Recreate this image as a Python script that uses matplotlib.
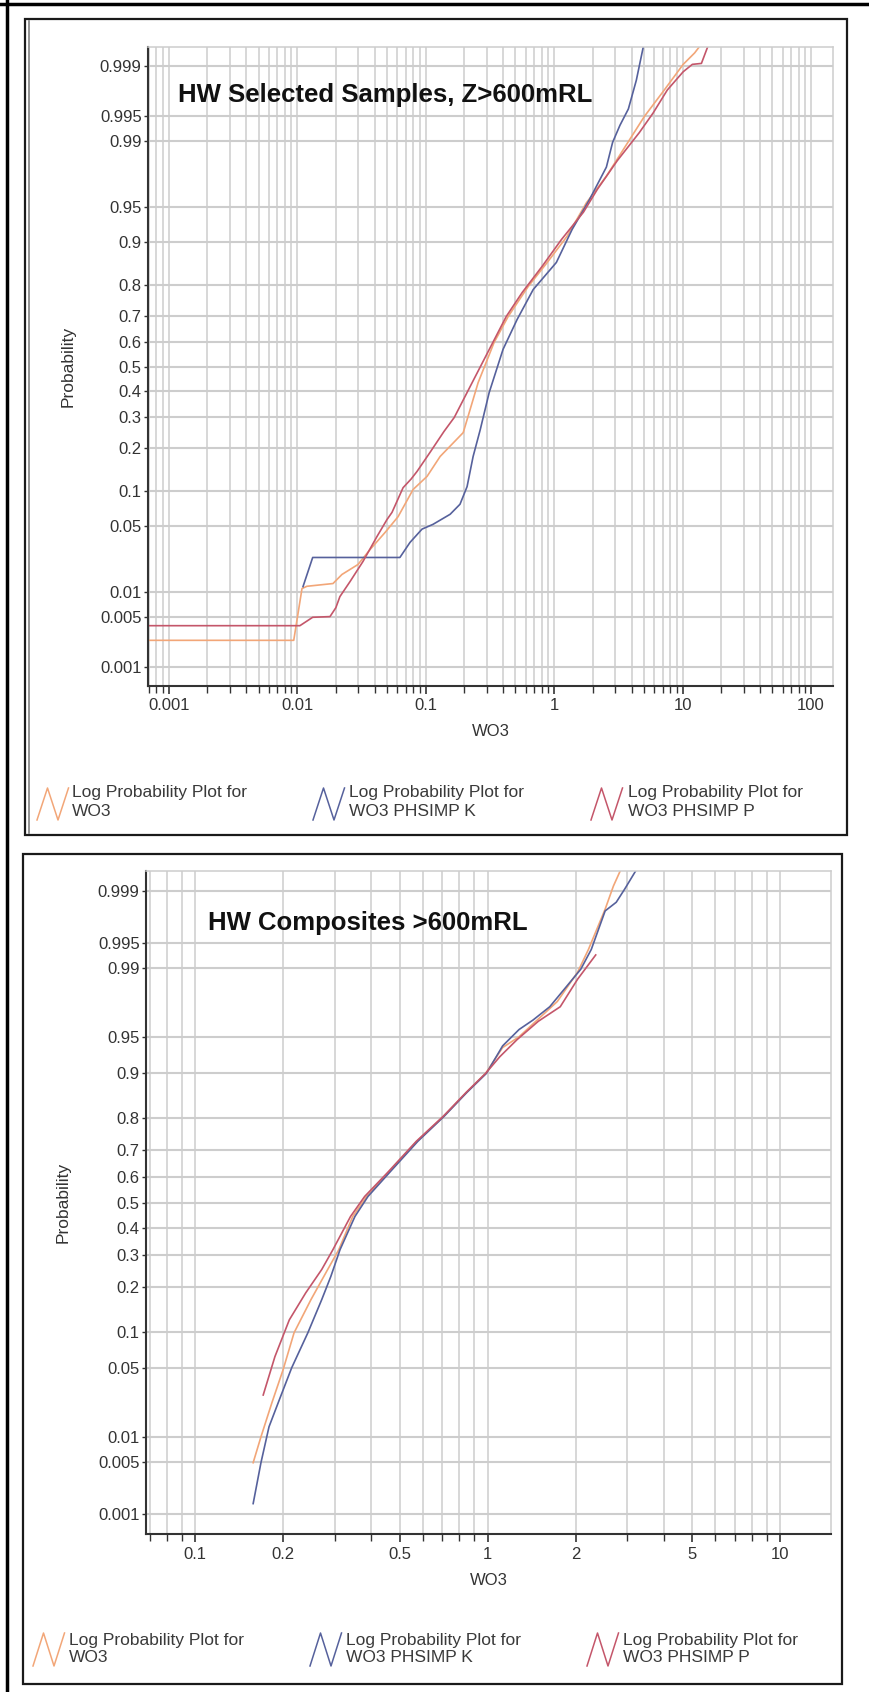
import matplotlib
matplotlib.use('Agg')
import matplotlib.pyplot as plt
import numpy as np
from statistics import NormalDist
from matplotlib.lines import Line2D
from matplotlib.patches import Rectangle
from matplotlib.ticker import FixedLocator, NullFormatter, NullLocator

plt.rcParams['font.family'] = ['Liberation Sans', 'DejaVu Sans']

# ---- HW selected samples, Z>600mRL ----
sel_wo3_x = [0.0005, 0.0094, 0.0109, 0.0119, 0.019, 0.0223, 0.0297, 0.0369, 0.0483, 0.061,
             0.0798, 0.1026, 0.1295, 0.196, 0.256, 0.341, 0.439, 0.628, 0.883, 1.26, 1.78,
             2.55, 3.58, 5.04, 7.2, 10.1, 12.4, 14.6]
sel_wo3_p = [0.0024, 0.0024, 0.0111, 0.0118, 0.0127, 0.0161, 0.0207, 0.0297, 0.0437, 0.061,
             0.1026, 0.129, 0.177, 0.248, 0.434, 0.598, 0.697, 0.795, 0.858, 0.91, 0.954,
             0.975, 0.9883, 0.995, 0.9978, 0.99907, 0.99938, 0.9996]

sel_k_x = [0.0111, 0.0132, 0.063, 0.0755, 0.0937, 0.114, 0.155, 0.185, 0.21, 0.234, 0.266,
           0.312, 0.40, 0.515, 0.687, 1.04, 1.38, 1.88, 2.55, 2.85, 3.25, 3.78, 4.36, 5.05]
sel_k_p = [0.0117, 0.0246, 0.0246, 0.035, 0.047, 0.052, 0.064, 0.078, 0.108, 0.177, 0.258,
           0.394, 0.57, 0.686, 0.786, 0.858, 0.921, 0.957, 0.980, 0.9895, 0.9935, 0.996,
           0.9984, 0.9996]

sel_p_x = [0.0005, 0.0105, 0.0132, 0.018, 0.020, 0.0215, 0.0258, 0.0325, 0.0418, 0.050,
           0.0547, 0.0667, 0.0769, 0.0857, 0.108, 0.139, 0.167, 0.23, 0.312, 0.424, 0.564,
           0.807, 1.135, 1.69, 2.17, 3.1, 4.6, 5.9, 7.6, 10.1, 11.9, 14.0, 16.3]
sel_p_p = [0.0038, 0.0038, 0.0049, 0.005, 0.0065, 0.0089, 0.0134, 0.0223, 0.040, 0.0575,
           0.0665, 0.106, 0.123, 0.140, 0.188, 0.252, 0.30, 0.434, 0.569, 0.697, 0.777,
           0.849, 0.904, 0.944, 0.966, 0.983, 0.992, 0.9955, 0.9978, 0.9988, 0.99907,
           0.9991, 0.9996]

# ---- HW composites >600mRL ----
comp_wo3_x = [0.158, 0.168, 0.183, 0.2, 0.218, 0.249, 0.284, 0.31, 0.346, 0.386, 0.459,
              0.573, 0.708, 0.847, 0.984, 1.125, 1.28, 1.53, 1.73, 2.03, 2.21, 2.52, 2.69, 2.9]
comp_wo3_p = [0.0049, 0.010, 0.0233, 0.0485, 0.098, 0.1675, 0.253, 0.32, 0.445, 0.524, 0.617,
              0.728, 0.804, 0.863, 0.90, 0.938, 0.95, 0.968, 0.977, 0.9889, 0.994, 0.9982,
              0.99916, 0.9996]

comp_k_x = [0.158, 0.168, 0.179, 0.196, 0.214, 0.243, 0.271, 0.291, 0.313, 0.352, 0.39, 0.462,
            0.577, 0.71, 0.85, 0.99, 1.125, 1.28, 1.43, 1.63, 1.86, 2.08, 2.26, 2.52, 2.75,
            2.94, 3.3]
comp_k_p = [0.0014, 0.0049, 0.013, 0.027, 0.0505, 0.098, 0.1675, 0.231, 0.32, 0.445, 0.524,
            0.617, 0.728, 0.804, 0.863, 0.90, 0.94, 0.957, 0.965, 0.974, 0.984, 0.9897, 0.994,
            0.9981, 0.99856, 0.99907, 0.9996]

comp_p_x = [0.171, 0.1875, 0.21, 0.239, 0.271, 0.296, 0.34, 0.38, 0.455, 0.57, 0.705, 0.845,
            0.984, 1.1, 1.26, 1.49, 1.77, 2.03, 2.34]
comp_p_p = [0.028, 0.063, 0.122, 0.185, 0.253, 0.32, 0.445, 0.524, 0.617, 0.728, 0.804, 0.863,
            0.90, 0.926, 0.947, 0.964, 0.974, 0.9867, 0.993]

prob_ticks = [0.001, 0.005, 0.01, 0.05, 0.1, 0.2, 0.3, 0.4, 0.5, 0.6, 0.7, 0.8, 0.9,
              0.95, 0.99, 0.995, 0.999]
prob_labels = ['0.001', '0.005', '0.01', '0.05', '0.1', '0.2', '0.3', '0.4', '0.5', '0.6',
               '0.7', '0.8', '0.9', '0.95', '0.99', '0.995', '0.999']

sel_xticks = [0.001, 0.01, 0.1, 1, 10, 100]
sel_xlabels = ['0.001', '0.01', '0.1', '1', '10', '100']
comp_xticks = [0.1, 0.2, 0.5, 1, 2, 5, 10]
comp_xlabels = ['0.1', '0.2', '0.5', '1', '2', '5', '10']

series_names = ['WO3', 'WO3 PHSIMP K', 'WO3 PHSIMP P']
series_colors = ['#F2A678', '#56619C', '#C4566A']

GRID = '#cdcdcd'
DARK = '#333333'
W, H = 870, 1692

_norm = NormalDist()


def prob_to_z(p):
    p = np.clip(np.asarray(p, dtype=float), 1e-9, 1 - 1e-9)
    return np.vectorize(_norm.inv_cdf, otypes=[float])(p)


def z_to_prob(z):
    return np.vectorize(_norm.cdf, otypes=[float])(np.asarray(z, dtype=float))


def fx(x):
    return x / W


def fy(y):
    return 1 - y / H


def frame(fig, x0, y0, x1, y1, **kw):
    fig.add_artist(Rectangle((fx(x0), fy(y1)), (x1 - x0) / W, (y1 - y0) / H,
                             transform=fig.transFigure, fill=False, **kw))


def setup_axes(ax, xlim, xticks, xlabels, ylab_x, xlab_y):
    ax.set_xscale('log')
    ax.set_yscale('function', functions=(prob_to_z, z_to_prob))
    ax.set_xlim(*xlim)
    ax.set_ylim(0.0005, 0.9995)
    ax.yaxis.set_major_locator(FixedLocator(prob_ticks))
    ax.yaxis.set_minor_locator(NullLocator())
    ax.set_yticklabels(prob_labels)
    ax.set_xticks(xticks)
    ax.set_xticklabels(xlabels)
    minor = [m * 10.0 ** e for e in range(-4, 3) for m in range(1, 10)]
    ax.xaxis.set_minor_locator(FixedLocator(minor))
    ax.xaxis.set_minor_formatter(NullFormatter())
    ax.set_axisbelow(True)
    ax.grid(True, which='both', axis='x', color=GRID, lw=1.1)
    ax.grid(True, which='major', axis='y', color=GRID, lw=1.5)
    for side in ('top', 'right'):
        ax.spines[side].set_color(GRID)
        ax.spines[side].set_linewidth(1.1)
    for side in ('left', 'bottom'):
        ax.spines[side].set_color(DARK)
        ax.spines[side].set_linewidth(1.5)
    ax.tick_params(axis='x', which='major', direction='out', length=6, width=1.2,
                   color=DARK, labelsize=12, labelcolor=DARK, pad=3)
    ax.tick_params(axis='x', which='minor', direction='out', length=5, width=1.0, color=DARK)
    ax.tick_params(axis='y', direction='out', length=3, width=1.0, color=DARK,
                   labelsize=12, labelcolor=DARK, pad=1.5)
    ax.set_xlabel('WO3', fontsize=12, color=DARK, va='center')
    ax.xaxis.set_label_coords(0.5, xlab_y)
    ax.set_ylabel('Probability', fontsize=12.5, color=DARK, va='center')
    ax.yaxis.set_label_coords(ylab_x, 0.5)


def legend_row(fig, icon_x, icon_y, text_x, text_y):
    for i in range(3):
        x0 = icon_x[i]
        xs = [x0, x0 + 10.5, x0 + 21, x0 + 31.5]
        ys = [icon_y[1], icon_y[0], icon_y[1], icon_y[0]]
        fig.add_artist(Line2D([fx(v) for v in xs], [fy(v) for v in ys],
                              transform=fig.transFigure, color=series_colors[i], lw=1.1))
        fig.text(fx(text_x[i]), fy(text_y[0]), 'Log Probability Plot for', fontsize=12.5,
                 color='#3a3a3a', ha='left', va='center')
        fig.text(fx(text_x[i]), fy(text_y[1]), series_names[i], fontsize=12.5,
                 color='#3a3a3a', ha='left', va='center')


fig = plt.figure(figsize=(8.7, 16.92), dpi=100)
fig.patch.set_facecolor('white')

# screenshot edge and the two panel frames
fig.add_artist(Line2D([0, 1], [fy(4), fy(4)], transform=fig.transFigure, color='black', lw=2.5))
fig.add_artist(Line2D([fx(7), fx(7)], [0, 1], transform=fig.transFigure, color='black', lw=2.5))
frame(fig, 25, 19, 847, 835, ec='#1a1a1a', lw=1.6)
fig.add_artist(Line2D([fx(28.5), fx(28.5)], [fy(21), fy(833)], transform=fig.transFigure,
                      color='#8a8a8a', lw=1.3))
frame(fig, 23, 854, 842, 1684, ec='#1a1a1a', lw=1.6)

# top panel
ax1 = fig.add_axes([fx(148), fy(686), (833 - 148) / W, (686 - 47) / H])
setup_axes(ax1, (0.00069, 148), sel_xticks, sel_xlabels,
           (68 - 148) / 685, -(732 - 686) / 639)
ax1.plot(sel_wo3_x, sel_wo3_p, color=series_colors[0], lw=1.2)
ax1.plot(sel_k_x, sel_k_p, color=series_colors[1], lw=1.2)
ax1.plot(sel_p_x, sel_p_p, color=series_colors[2], lw=1.2)
fig.text(fx(178), fy(95), 'HW Selected Samples, Z>600mRL', fontsize=18.5,
         fontweight='bold', color='#111111', ha='left', va='center')
legend_row(fig, [37, 313, 591], (788, 820), [72, 349, 628], (793, 811))

# bottom panel
ax2 = fig.add_axes([fx(146), fy(1534), (831 - 146) / W, (1534 - 871) / H])
setup_axes(ax2, (0.068, 14.9), comp_xticks, comp_xlabels,
           (63 - 146) / 685, -(1580 - 1534) / 663)
ax2.plot(comp_wo3_x, comp_wo3_p, color=series_colors[0], lw=1.2)
ax2.plot(comp_k_x, comp_k_p, color=series_colors[1], lw=1.2)
ax2.plot(comp_p_x, comp_p_p, color=series_colors[2], lw=1.2)
fig.text(fx(208), fy(923), 'HW Composites >600mRL', fontsize=18.5,
         fontweight='bold', color='#111111', ha='left', va='center')
legend_row(fig, [33, 310, 587], (1633, 1666), [69, 346, 623], (1640, 1657))

fig.savefig('out.png', dpi=100)
